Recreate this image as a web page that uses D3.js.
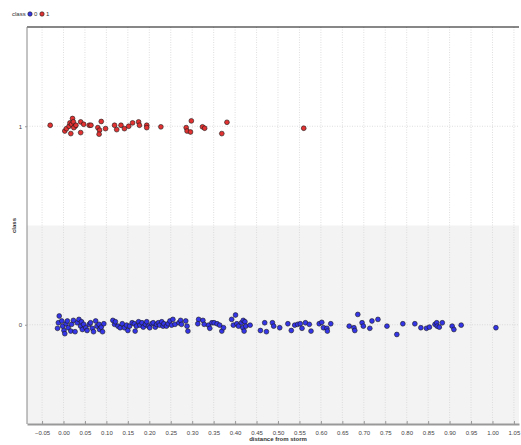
<!DOCTYPE html>
<html>
<head>
<meta charset="utf-8">
<script src="https://cdn.jsdelivr.net/npm/d3@7"></script>
<style>
    body { margin: 0; background: #fff; }
    text { font-family: "Liberation Sans", "DejaVu Sans", sans-serif; fill: #333; }
    .grid line { stroke: #d6d6d6; stroke-width: 0.8; stroke-dasharray: 1,1.5; }
    .axis path, .axis line { stroke: #999; }
    .axis text { font-size: 6px; fill: #444; }
    .dot { stroke: #1a1a1a; stroke-width: 0.6; }
</style>
</head>
<body>
<div id="chart"></div>
<script>
// class 1 (red) points: distance from storm + vertical jitter
var red_distance = [-0.031, 0.003, 0.007, 0.013, 0.015, 0.019, 0.021, 0.023, 0.017, 0.027, 0.024, 0.029,
    0.040, 0.040, 0.047, 0.060, 0.064, 0.080, 0.084, 0.083, 0.088, 0.098, 0.119, 0.124, 0.134, 0.142,
    0.152, 0.161, 0.175, 0.177, 0.194, 0.194, 0.227, 0.286, 0.288, 0.298, 0.296, 0.324, 0.329, 0.369,
    0.381, 0.560];
var red_jitter = [0.005, -0.024, -0.012, 0, 0.017, 0.010, 0.039, 0.022, -0.037, 0, -0.007, 0.005,
    0.022, -0.032, 0.010, 0.005, 0.005, -0.007, -0.020, -0.040, 0.024, -0.012, 0.005, -0.017, 0.005, -0.012,
    0, 0.017, 0.022, 0.005, 0.005, -0.007, -0.003, -0.007, -0.024, 0.027, -0.029, -0.003, -0.010, -0.037,
    0.020, -0.010];

// class 0 (blue) points
var blue_distance = [-0.010, -0.012, -0.014, -0.004, -0.002, 0.001, 0.003, 0.006, 0.009, 0.011, 0.017, 0.019,
    0.023, 0.027, 0.032, 0.036, 0.040, 0.042, 0.044, 0.047, 0.052, 0.055, 0.060, 0.063, 0.067, 0.070,
    0.075, 0.078, 0.083, 0.084, 0.088, 0.091, 0.094, 0.115, 0.119, 0.121, 0.127, 0.132, 0.137, 0.142,
    0.147, 0.150, 0.154, 0.160, 0.165, 0.167, 0.170, 0.175, 0.178, 0.183, 0.186, 0.191, 0.194, 0.198,
    0.201, 0.206, 0.209, 0.214, 0.217, 0.221, 0.224, 0.229, 0.232, 0.234, 0.240, 0.244, 0.248, 0.252,
    0.255, 0.260, 0.269, 0.273, 0.275,
    0.285, 0.288, 0.290, 0.315, 0.313, 0.325, 0.328, 0.338, 0.341, 0.346, 0.351, 0.358, 0.364, 0.369,
    0.373, 0.392, 0.396, 0.401, 0.404, 0.408, 0.415, 0.418, 0.419, 0.423, 0.421, 0.425, 0.435, 0.469,
    0.459, 0.473, 0.487, 0.490, 0.504, 0.523, 0.531, 0.539, 0.546, 0.552, 0.556, 0.564, 0.573, 0.577,
    0.596,
    0.602, 0.606, 0.614, 0.615, 0.623, 0.666, 0.677, 0.679, 0.686, 0.696, 0.699, 0.714, 0.719, 0.733,
    0.754, 0.777, 0.791, 0.819, 0.833, 0.846, 0.853, 0.866, 0.870, 0.871, 0.876, 0.883, 0.906, 0.910,
    0.927, 1.008];
var blue_jitter = [0.044, 0.010, -0.018, 0.019, -0.007, -0.029, -0.045, 0.005, 0.019, -0.015, -0.032, 0.002,
    0.022, -0.035, 0.010, 0.027, -0.007, 0.015, -0.024, 0.002, -0.015, -0.029, 0.002, 0.010, -0.018, -0.035,
    0.019, -0.007, 0.002, -0.024, -0.012, -0.035, 0.005, 0.022, 0.002, 0.015, -0.007, -0.015, 0.005, -0.015,
    -0.002, -0.029, -0.007, 0.010, 0.005, -0.032, -0.007, 0.015, -0.002, 0.010, -0.012, 0.002, 0.015, -0.007,
    -0.015, 0.005, 0.010, -0.012, 0.002, 0.010, -0.002, 0.015, -0.007, 0.005, -0.007, 0.005, 0.019, -0.002,
    0.027, 0.002, 0.010, 0.022, 0.002,
    0.019, -0.007, -0.032, 0.027, 0.005, 0.022, 0.002, -0.002, -0.018, 0.010, 0.010, 0.005, -0.002, -0.032,
    -0.015, 0.027, -0.002, 0.049, 0.005, -0.007, 0.010, -0.015, 0.022, 0.015, -0.032, -0.007, -0.002, 0.010,
    -0.029, -0.035, 0.010, -0.007, -0.015, 0.005, -0.029, -0.002, 0.002, 0.005, -0.018, 0.010, 0.002, -0.032,
    0.005,
    0.012, -0.015, -0.018, -0.032, 0.005, -0.007, -0.015, -0.029, 0.052, 0.010, -0.007, -0.018, 0.019, 0.027,
    -0.007, -0.049, 0.005, 0.005, -0.015, -0.018, -0.012, 0.002, 0.010, -0.007, -0.012, 0.010, -0.007, -0.024,
    -0.002, -0.015];

var classes = [0, 1];
var class_colors = ["#3535e8", "#e23232"];
var x_ticks = [-0.05, 0, 0.05, 0.1, 0.15, 0.2, 0.25, 0.3, 0.35, 0.4, 0.45, 0.5,
    0.55, 0.6, 0.65, 0.7, 0.75, 0.8, 0.85, 0.9, 0.95, 1.0, 1.05];

var width = 521
    , height = 445
    , margin = {top: 27, right: 2, bottom: 21, left: 27}
    , w = width - margin.left - margin.right
    , h = height - margin.top - margin.bottom
    ;

var svg = d3.select("#chart")
    .append("svg")
    .attr("width", width)
    .attr("height", height);

var x = d3.scaleLinear()
    .domain([-0.0851, 1.0618])
    .range([0, w]);

var y = d3.scaleLinear()
    .domain([-0.5, 1.5])
    .range([h, 0]);

var g = svg.append("g")
    .attr("transform", "translate(" + margin.left + "," + margin.top + ")");

// shaded band behind class 0
g.append("rect")
    .attr("x", 0)
    .attr("y", y(0.5))
    .attr("width", w)
    .attr("height", y(-0.5) - y(0.5))
    .attr("fill", "#f3f3f3");

var grid = g.append("g").attr("class", "grid");

grid.selectAll("line.vx")
    .data(x_ticks)
    .enter().append("line")
    .attr("class", "vx")
    .attr("x1", function(d) { return x(d); })
    .attr("x2", function(d) { return x(d); })
    .attr("y1", 0)
    .attr("y2", h);

grid.selectAll("line.hy")
    .data(classes)
    .enter().append("line")
    .attr("class", "hy")
    .attr("x1", 0)
    .attr("x2", w)
    .attr("y1", function(d) { return y(d); })
    .attr("y2", function(d) { return y(d); });

// frame
g.append("line")
    .attr("x1", 0).attr("x2", w)
    .attr("y1", 0).attr("y2", 0)
    .attr("stroke", "#111")
    .attr("stroke-width", 1.2);

g.append("line")
    .attr("x1", 0).attr("x2", 0)
    .attr("y1", 0).attr("y2", h)
    .attr("stroke", "#888")
    .attr("stroke-width", 1);

var xAxis = d3.axisBottom(x)
    .tickValues(x_ticks)
    .tickSizeOuter(0)
    .tickSizeInner(3)
    .tickPadding(4)
    .tickFormat(d3.format(".2f"));

var gx = g.append("g")
    .attr("class", "axis axis--x")
    .attr("transform", "translate(0," + h + ")")
    .call(xAxis);

gx.select(".domain")
    .attr("stroke", "#aaa")
    .attr("stroke-width", 2);

gx.selectAll(".tick line")
    .attr("y1", -3)
    .attr("y2", 0)
    .attr("stroke", "#ccc");

var yAxis = d3.axisLeft(y)
    .tickValues(classes)
    .tickSizeOuter(0)
    .tickSizeInner(2)
    .tickPadding(3)
    .tickFormat(d3.format("d"));

var gy = g.append("g")
    .attr("class", "axis axis--y")
    .call(yAxis);

gy.select(".domain").remove();

// points
function draw_points(xs, js, cls) {
    g.append("g")
        .selectAll("circle")
        .data(xs)
        .enter().append("circle")
        .attr("class", "dot")
        .attr("r", 2.4)
        .attr("cx", function(d) { return x(d); })
        .attr("cy", function(d, i) { return y(cls + js[i]); })
        .attr("fill", class_colors[cls]);
}

draw_points(blue_distance, blue_jitter, 0);
draw_points(red_distance, red_jitter, 1);

// axis titles
svg.append("text")
    .attr("x", margin.left + x(0.5))
    .attr("y", 441)
    .attr("text-anchor", "middle")
    .attr("font-size", "6px")
    .attr("font-weight", "bold")
    .text("distance from storm");

svg.append("text")
    .attr("transform", "translate(16," + (margin.top + y(0.5)) + ") rotate(-90)")
    .attr("text-anchor", "middle")
    .attr("font-size", "6px")
    .attr("font-weight", "bold")
    .text("class");

// legend
var legend = svg.append("g")
    .attr("transform", "translate(12,16)");

legend.append("text")
    .attr("x", 0)
    .attr("y", 0)
    .attr("font-size", "6px")
    .text("class");

var items = legend.selectAll("g.item")
    .data(classes)
    .enter().append("g")
    .attr("class", "item")
    .attr("transform", function(d, i) { return "translate(" + (18 + i * 12) + ",0)"; });

items.append("circle")
    .attr("class", "dot")
    .attr("cx", 0)
    .attr("cy", -2)
    .attr("r", 2.2)
    .attr("fill", function(d) { return class_colors[d]; });

items.append("text")
    .attr("x", 4)
    .attr("y", 0)
    .attr("font-size", "6px")
    .text(function(d) { return d; });
</script>
</body>
</html>
